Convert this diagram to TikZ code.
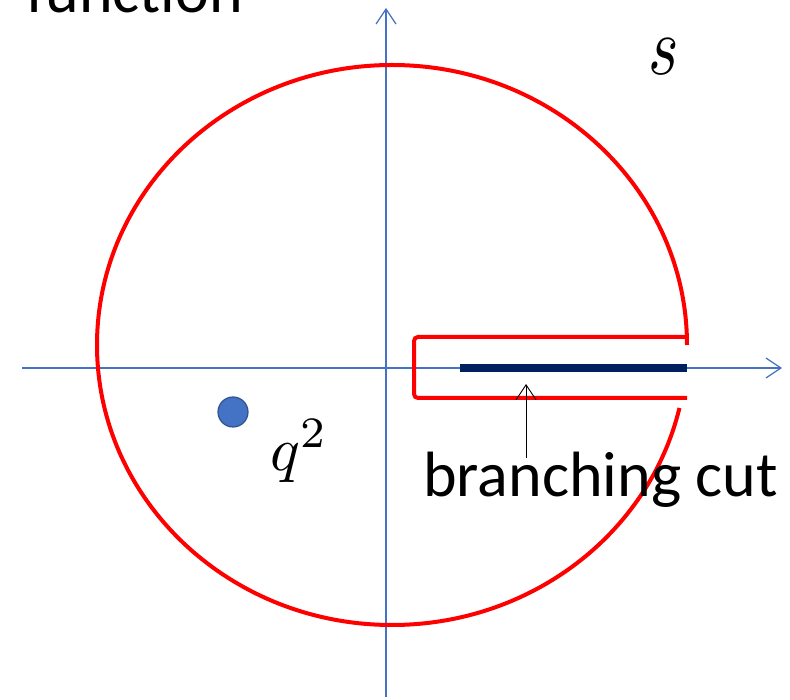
\documentclass[tikz,border=0pt]{standalone}
\usepackage{fontspec}
\usepackage{graphicx}
\setmainfont{Carlito}
\setsansfont{Carlito}
\usetikzlibrary{arrows.meta}
\definecolor{axisblue}{HTML}{4472C4}
\definecolor{navy}{HTML}{002060}
\definecolor{dotedge}{HTML}{2F528F}
\tikzset{
  axisline/.style={draw=axisblue, line width=1.2pt, -{Straight Barb[length=15pt,width=20pt,line width=1.2pt]}},
  contour/.style={draw=red, line width=4pt},
  lbl/.style={inner sep=0pt, anchor=base west},
}
\begin{document}
\begin{tikzpicture}[x=1pt,y=1pt]
\useasboundingbox (0,0) rectangle (790,699);
% axes
\coordinate (xl) at (22,331);
\coordinate (xr) at (782,331);
\coordinate (yb) at (386,2);
\coordinate (yt) at (386,691);
\draw[axisline] (xl) -- (xr);
\draw[axisline] (yb) -- (yt);
% contour
\coordinate (c) at (392,354);
\draw[contour] ([shift={(0:295pt and 280pt)}]c) arc[start angle=0, end angle=347, x radius=295pt, y radius=280pt];
\coordinate (k1) at (686,362);
\coordinate (k2) at (414,362);
\coordinate (k3) at (414,301);
\coordinate (k4) at (687,301);
\draw[contour, rounded corners=4pt] (k1) -- (k2) -- (k3) -- (k4);
% cut
\coordinate (cutl) at (460,331);
\coordinate (cutr) at (687,331);
\draw[navy, line width=8pt] (cutl) -- (cutr);
% pole
\node[circle, fill=axisblue, draw=dotedge, line width=1.2pt, minimum size=30pt, inner sep=0pt] (pole) at (233,287) {};
% labels
\node[lbl] (func) at (26,686) {\fontsize{64}{70}\selectfont function};
\node[lbl] (bc) at (423,202) {\fontsize{64}{70}\selectfont branching cut};
\node[lbl] (s) at (648,624) {\scalebox{6.5}[8.3]{$s$}};
\node[lbl] (q) at (270,229) {\scalebox{6.2}{$q^2$}};
% arrow
\coordinate (arrbase) at (526,241);
\coordinate (arrtip) at (526,315);
\draw[black, line width=0.9pt, -{Straight Barb[length=15pt,width=20pt,line width=0.9pt]}] (arrbase) -- (arrtip);
\end{tikzpicture}
\end{document}
